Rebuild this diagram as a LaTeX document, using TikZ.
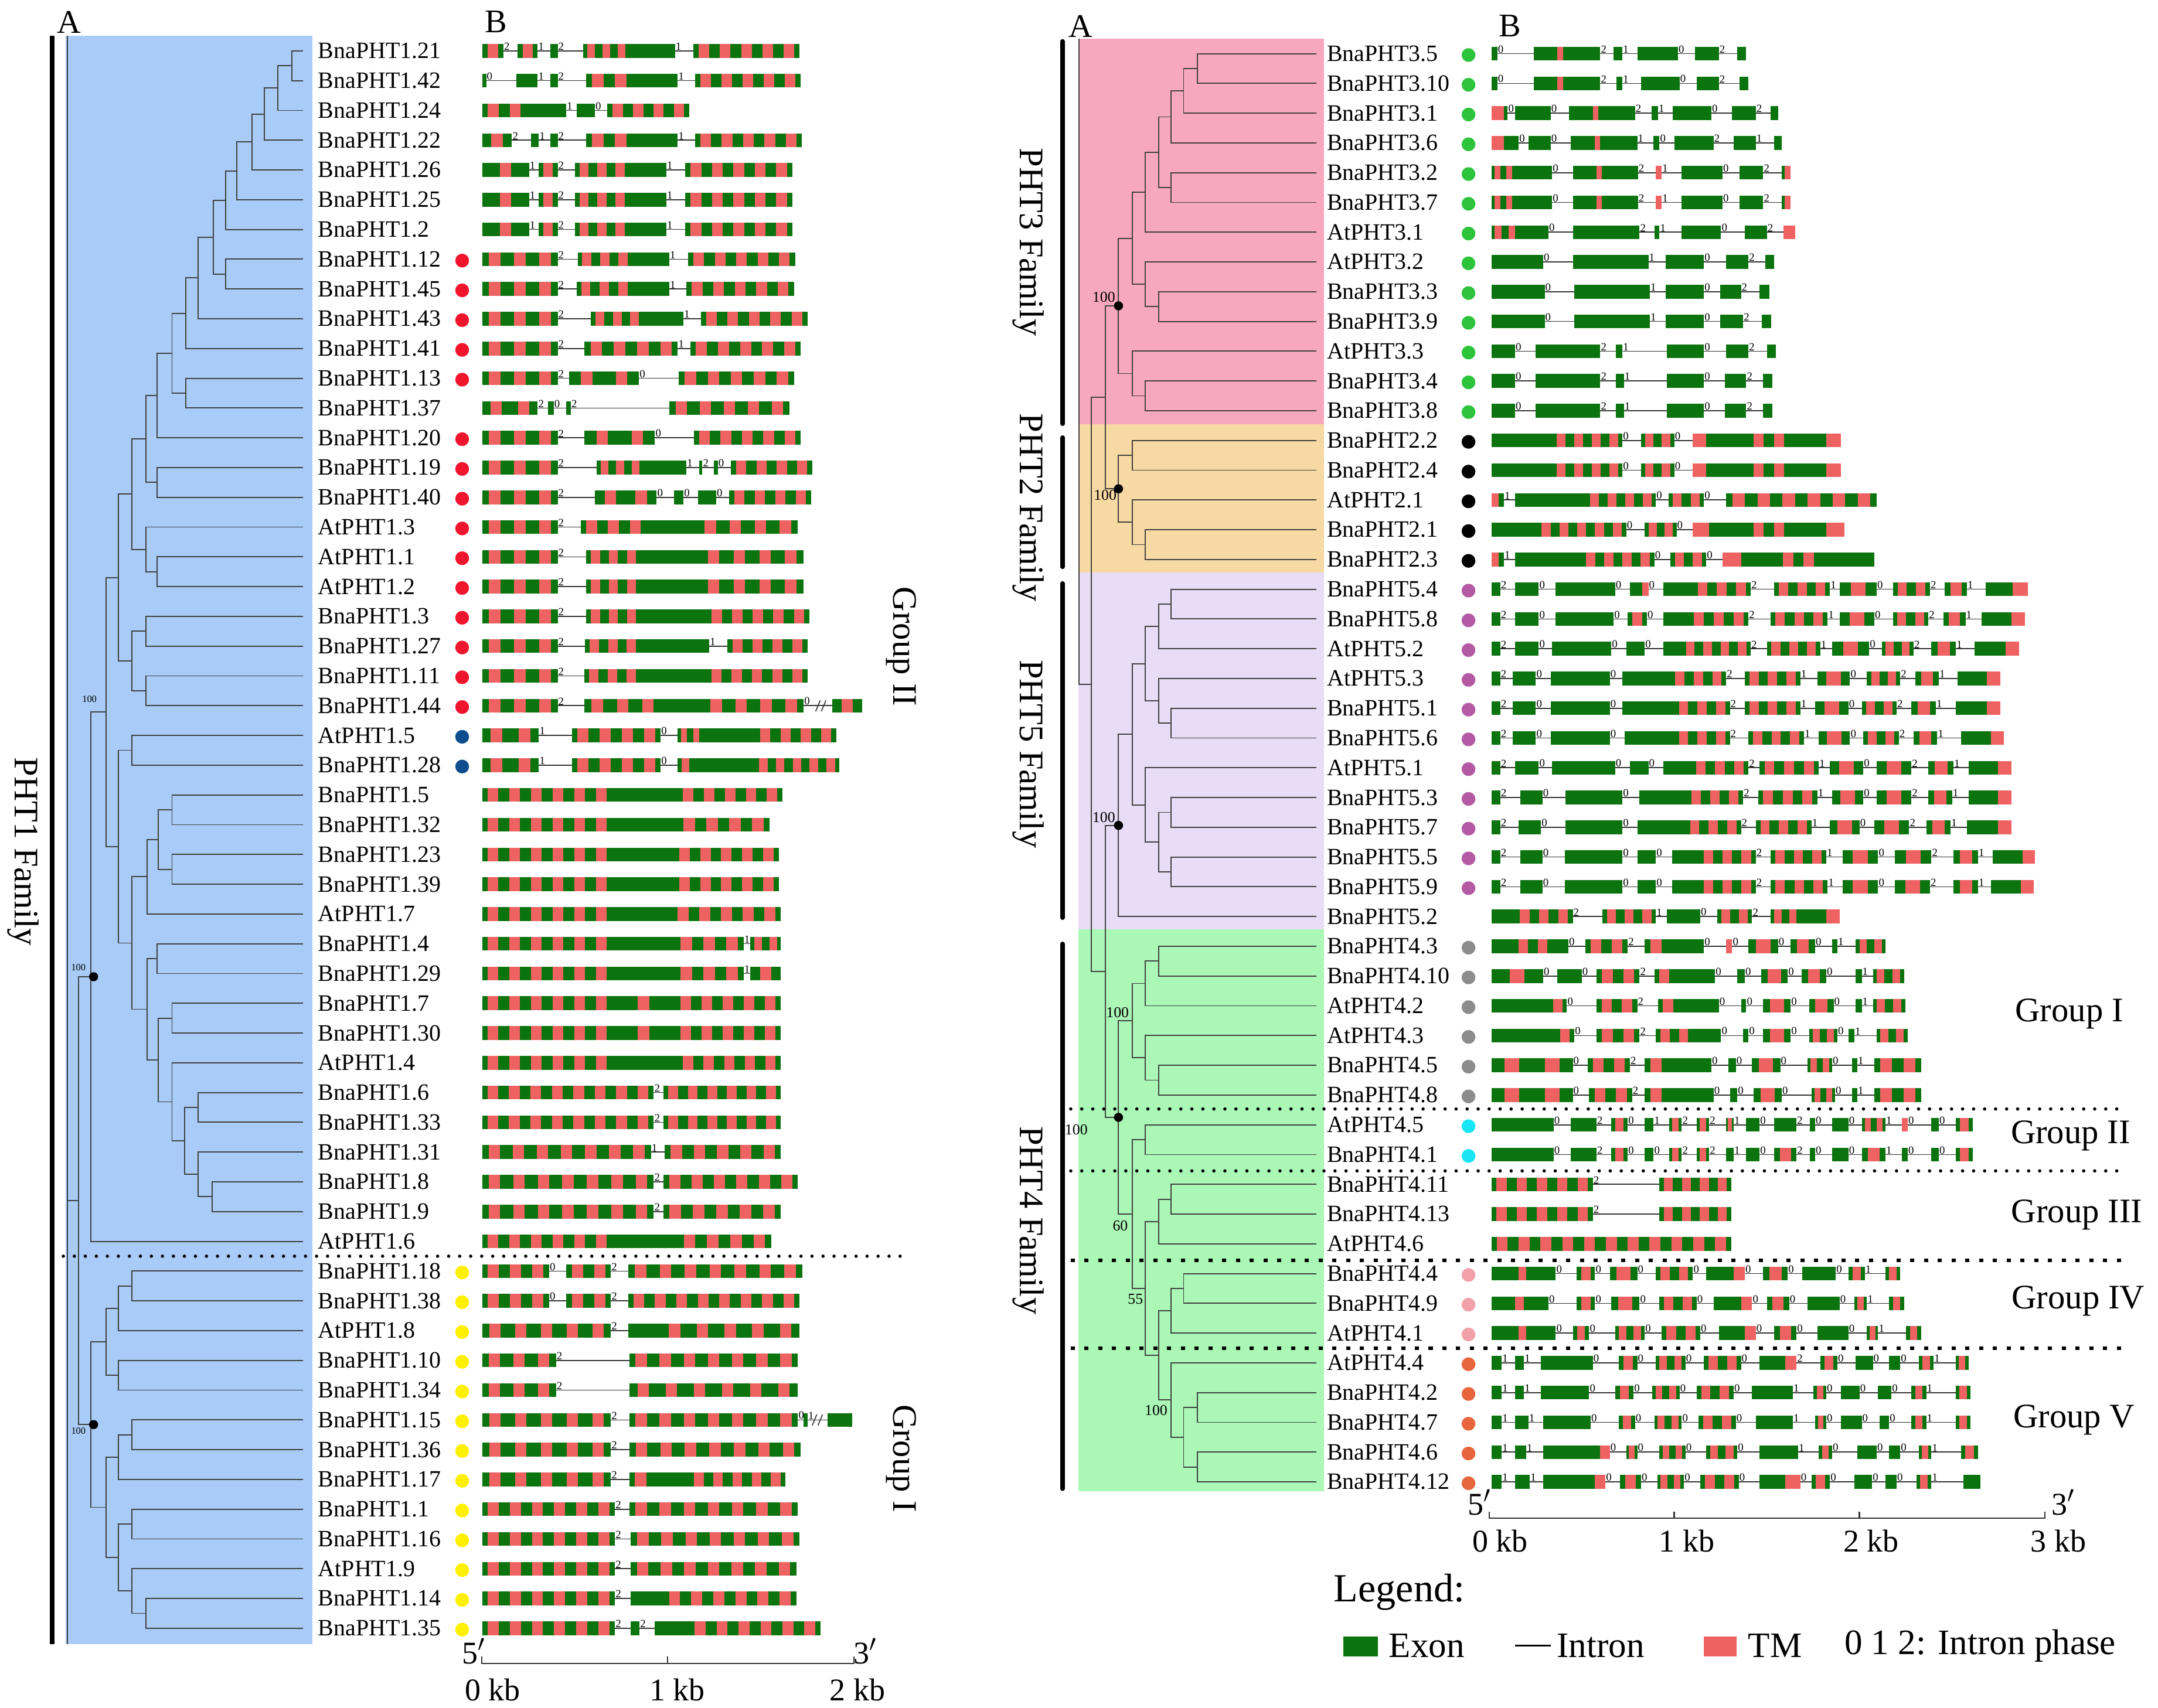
\documentclass[tikz,border=0pt]{standalone}
\usepackage{fontspec}
\setmainfont{Liberation Serif}
\usepackage{tikz}
\usetikzlibrary{calc}

\definecolor{phtonebg}{HTML}{A8CCF7}
\definecolor{phtthreebg}{HTML}{F8A8BE}
\definecolor{phttwobg}{HTML}{F7D9A3}
\definecolor{phtfivebg}{HTML}{E8DCF6}
\definecolor{phtfourbg}{HTML}{AAF7B6}
\definecolor{exongreen}{HTML}{0B740E}
\definecolor{tmred}{HTML}{EF6262}
\definecolor{dotred}{HTML}{F0142D}
\definecolor{dotblue}{HTML}{0E4C8C}
\definecolor{dotyellow}{HTML}{FFF000}
\definecolor{dotgreen}{HTML}{2DC43C}
\definecolor{dotpurple}{HTML}{B45AA5}
\definecolor{dotgray}{HTML}{8C8C8C}
\definecolor{dotcyan}{HTML}{19E6F5}
\definecolor{dotpink}{HTML}{F2A0AA}
\definecolor{dotorange}{HTML}{E8643C}

\tikzset{
  treeline/.style={draw=black!75, line width=0.8pt},
  intronline/.style={draw=black!80, line width=0.7pt},
  exonbox/.style={fill=exongreen},
  tmbox/.style={fill=tmred},
  phasetxt/.style={anchor=south west, inner sep=0.3pt, font=\fontsize{8}{8}\selectfont},
  genename/.style={anchor=west, inner sep=0pt, font=\fontsize{17}{17}\selectfont},
  famline/.style={line width=3.2pt},
  dotsep/.style={line width=2.4pt, dash pattern=on 0pt off 8pt, line cap=round},
  dashsep/.style={line width=2.4pt, dash pattern=on 3pt off 7pt},
  famname/.style={rotate=-90, font=\fontsize{25}{25}\selectfont},
  groupname/.style={font=\fontsize{25}{25}\selectfont},
  bootleft/.style={font=\fontsize{7}{7}\selectfont, inner sep=0pt},
  bootright/.style={font=\fontsize{11}{11}\selectfont, inner sep=0pt},
  panel/.style={font=\fontsize{24}{24}\selectfont},
  scaletxt/.style={font=\fontsize{23}{23}\selectfont},
  legendtxt/.style={anchor=west, inner sep=0pt, font=\fontsize{26}{26}\selectfont}
}

% #1 node, #2 x, #3 and #4 children
\newcommand{\clade}[4]{%
  \path let \p1=(#3), \p2=(#4) in (#2pt,{0.5*\y1+0.5*\y2}) coordinate (#1);
  \draw[treeline] (#3) -- (#3 -| #1) -- (#4 -| #1) -- (#4);}

% #1 row, #2 start, #3 end, #4 exons start/end/stripes, #5 phases x/digit
\newcommand{\gene}[5]{%
  \pgfmathsetmacro\gy{\rowbase+(#1-1)*\rowstep}
  \draw[intronline] (#2,\gy) -- (#3,\gy);
  \foreach \xa/\xb/\nk in {#4}{%
    \ifnum\nk<0
      \fill[tmbox] (\xa,\gy-5) rectangle (\xb,\gy+5);
    \else
      \fill[exonbox] (\xa,\gy-5) rectangle (\xb,\gy+5);
      \ifnum\nk>0
        \pgfmathsetmacro\hw{min(0.25*(\xb-\xa)/\nk,10)}
        \foreach \i in {1,...,\nk}
          \fill[tmbox] ({\xa+(\xb-\xa)*(\i-0.5)/\nk-\hw},\gy-5) rectangle ({\xa+(\xb-\xa)*(\i-0.5)/\nk+\hw},\gy+5);
      \fi
    \fi}
  \foreach \xp/\dg in {#5}{\ifx\xp\empty\else\node[phasetxt] at (\xp,\gy) {\dg};\fi}}

\begin{document}
\begin{tikzpicture}[x=1pt,y=-1pt]
\useasboundingbox (0,0) rectangle (1568,1241);

%%%%%%%%%%%%%%%% left: PHT1
\fill[phtonebg] (47.5,26) rectangle (227,1195);
\draw[famline] (38,26) -- (38,1195);
\node[famname] (famone) at (17,619) {PHT1 Family};
\node[panel] (pA) at (50,16) {A};
\node[panel] (pB) at (360.5,16) {B};

\foreach \n [count=\i] in {BnaPHT1.21,BnaPHT1.42,BnaPHT1.24,BnaPHT1.22,BnaPHT1.26,BnaPHT1.25,BnaPHT1.2,BnaPHT1.12,BnaPHT1.45,BnaPHT1.43,BnaPHT1.41,BnaPHT1.13,BnaPHT1.37,BnaPHT1.20,BnaPHT1.19,BnaPHT1.40,AtPHT1.3,AtPHT1.1,AtPHT1.2,BnaPHT1.3,BnaPHT1.27,BnaPHT1.11,BnaPHT1.44,AtPHT1.5,BnaPHT1.28,BnaPHT1.5,BnaPHT1.32,BnaPHT1.23,BnaPHT1.39,AtPHT1.7,BnaPHT1.4,BnaPHT1.29,BnaPHT1.7,BnaPHT1.30,AtPHT1.4,BnaPHT1.6,BnaPHT1.33,BnaPHT1.31,BnaPHT1.8,BnaPHT1.9,AtPHT1.6,BnaPHT1.18,BnaPHT1.38,AtPHT1.8,BnaPHT1.10,BnaPHT1.34,BnaPHT1.15,BnaPHT1.36,BnaPHT1.17,BnaPHT1.1,BnaPHT1.16,AtPHT1.9,BnaPHT1.14,BnaPHT1.35}{
  \coordinate (l\i) at (220,{37+(\i-1)*21.63});
  \node[genename] (gl\i) at (231,{37+(\i-1)*21.63}) {\n};
}

% tree
\clade{a1}{212}{l1}{l2}
\clade{a2}{202}{a1}{l3}
\clade{a3}{192}{a2}{l4}
\clade{a4}{183}{a3}{l5}
\clade{a5}{172}{a4}{l6}
\clade{a6}{164}{a5}{l7}
\clade{b1}{164}{l8}{l9}
\clade{a7}{155}{a6}{b1}
\clade{a8}{144}{a7}{l10}
\clade{a9}{135}{a8}{l11}
\clade{c1}{135}{l12}{l13}
\clade{a10}{125}{a9}{c1}
\clade{a11}{114}{a10}{l14}
\clade{d1}{114}{l15}{l16}
\clade{a12}{106}{a11}{d1}
\clade{e1}{114}{l18}{l19}
\clade{e2}{106}{l17}{e1}
\clade{a13}{96}{a12}{e2}
\clade{f1}{106}{l20}{l21}
\clade{f2}{106}{l22}{l23}
\clade{f3}{96}{f1}{f2}
\clade{a14}{86}{a13}{f3}
\clade{g1}{96}{l24}{l25}
\clade{h1}{125}{l26}{l27}
\clade{h2}{125}{l28}{l29}
\clade{h3}{115}{h1}{h2}
\clade{h4}{107}{h3}{l30}
\clade{h5}{114}{l31}{l32}
\clade{h6}{125}{l33}{l34}
\clade{h7}{154}{l39}{l40}
\clade{h8}{144}{l38}{h7}
\clade{h9}{144}{l36}{l37}
\clade{h10}{134}{h9}{h8}
\clade{h11}{125}{l35}{h10}
\clade{h12}{115}{h6}{h11}
\clade{h13}{107}{h5}{h12}
\clade{h}{96}{h4}{h13}
\clade{a15}{86}{g1}{h}
\clade{a16}{77}{a14}{a15}
\clade{a17}{66}{a16}{l41}
\clade{i1}{96}{l42}{l43}
\clade{i2}{86}{i1}{l44}
\clade{i3}{86}{l45}{l46}
\clade{i4}{77}{i2}{i3}
\clade{j1}{96}{l47}{l48}
\clade{j2}{86}{j1}{l49}
\clade{j3}{96}{l50}{l51}
\clade{j4}{106}{l53}{l54}
\clade{j5}{96}{l52}{j4}
\clade{j6}{86}{j3}{j5}
\clade{j7}{77}{j2}{j6}
\clade{grpone}{66}{i4}{j7}
\clade{top}{57}{a17}{grpone}
\draw[treeline] (49,26) -- (49,1195);
\draw[treeline] (top) -- ++(-8,0);
\fill ([xshift=2pt]a17) circle (3.3);
\fill ([xshift=2pt]grpone) circle (3.3);
\node[bootleft] at (65,508) {100};
\node[bootleft] at (57,703) {100};
\node[bootleft] at (57,1040) {100};

% domain dots
\foreach \i in {8,9,...,12,14,15,...,23} \fill[dotred] (335.8,{38+(\i-1)*21.63}) circle (5);
\foreach \i in {24,25} \fill[dotblue] (335.8,{38+(\i-1)*21.63}) circle (5);
\foreach \i in {42,43,...,54} \fill[dotyellow] (335.8,{38+(\i-1)*21.63}) circle (5);

% gene structures
\begin{scope}[xscale=0.4156]
\def\rowbase{37}\def\rowstep{21.63}
\gene{1}{843}{1398}{843/880/1,905/940/1,962/975/0,1020/1100/3,1100/1180/0,1212/1398/5}{880/2,940/1,975/2,1180/1}
\gene{2}{843}{1400}{843/850/0,903/940/0,962/975/0,1025/1105/2,1105/1185/0,1215/1400/5}{850/0,940/1,975/2,1185/1}
\gene{3}{843}{1205}{843/920/2,920/990/0,1008/1040/0,1062/1205/4}{990/1,1040/0}
\gene{4}{843}{1402}{843/895/1,928/942/0,962/975/0,1025/1105/2,1105/1185/0,1215/1402/5}{895/2,942/1,975/2,1185/1}
\gene{5}{843}{1385}{843/925/1,942/975/1,1005/1100/3,1100/1165/0,1198/1385/5}{925/1,975/2,1165/1}
\gene{6}{843}{1385}{843/925/1,942/975/1,1005/1100/3,1100/1165/0,1198/1385/5}{925/1,975/2,1165/1}
\gene{7}{843}{1385}{843/925/1,942/975/1,1005/1100/3,1100/1165/0,1198/1385/5}{925/1,975/2,1165/1}
\gene{8}{843}{1390}{843/975/3,1010/1105/3,1105/1170/0,1203/1390/5}{975/2,1170/1}
\gene{9}{843}{1388}{843/975/3,1008/1105/3,1105/1170/0,1200/1388/5}{975/2,1170/1}
\gene{10}{843}{1412}{843/975/3,1033/1125/3,1125/1195/0,1225/1412/5}{975/2,1195/1}
\gene{11}{843}{1400}{843/975/3,1022/1185/4,1207/1400/5}{975/2,1185/1}
\gene{12}{843}{1388}{843/975/3,995/1117/2,1187/1388/5}{975/2,1117/0}
\gene{13}{843}{1380}{843/940/2,958/968/0,990/998/0,1170/1380/5}{940/2,968/0,998/2}
\gene{14}{843}{1400}{843/975/3,1022/1145/2,1213/1400/5}{975/2,1145/0}
\gene{15}{843}{1420}{843/975/3,1043/1125/3,1125/1200/0,1222/1228/0,1248/1255/0,1278/1420/4}{975/2,1200/1,1228/2,1255/0}
\gene{16}{843}{1418}{843/975/3,1040/1148/2,1178/1195/0,1220/1252/0,1275/1418/4}{975/2,1148/0,1195/0,1252/0}
\gene{17}{843}{1395}{843/975/3,1015/1130/3,1130/1220/0,1220/1395/4}{975/2}
\gene{18}{843}{1405}{843/975/3,1025/1120/3,1120/1225/0,1225/1405/4}{975/2}
\gene{19}{843}{1405}{843/975/3,1025/1120/3,1120/1225/0,1225/1405/4}{975/2}
\gene{20}{843}{1415}{843/975/3,1025/1120/3,1120/1235/0,1235/1415/5}{975/2}
\gene{21}{843}{1412}{843/975/3,1023/1120/3,1120/1240/0,1272/1412/4}{975/2,1240/1}
\gene{22}{843}{1412}{843/975/3,1022/1120/3,1120/1235/0,1235/1412/5}{975/2}
\gene{23}{843}{1507}{843/975/3,1022/1155/3,1155/1230/0,1230/1405/4,1455/1507/1}{975/2,1405/0}
\draw[intronline] (1426,517) -- (1434,509) (1436,517) -- (1444,509);
\gene{24}{843}{1462}{843/942/2,1000/1155/4,1185/1228/2,1228/1320/0,1320/1462/4}{942/1,1155/0}
\gene{25}{843}{1467}{843/942/2,1000/1155/4,1185/1212/1,1212/1320/0,1320/1467/5}{942/1,1155/0}
\gene{26}{843}{1368}{843/1070/6,1070/1185/0,1185/1368/5}{}
\gene{27}{843}{1345}{843/1070/6,1070/1185/0,1185/1345/4}{}
\gene{28}{843}{1362}{843/1070/6,1070/1178/0,1178/1362/5}{}
\gene{29}{843}{1362}{843/1070/6,1070/1178/0,1178/1362/5}{}
\gene{30}{843}{1365}{843/1070/6,1070/1175/0,1175/1365/5}{}
\gene{31}{843}{1365}{843/1070/6,1070/1180/0,1180/1300/3,1312/1365/2}{1300/1}
\gene{32}{843}{1365}{843/1070/6,1070/1180/0,1180/1300/3,1312/1365/1}{1300/1}
\gene{33}{843}{1365}{843/1070/6,1070/1180/1,1180/1365/5}{}
\gene{34}{843}{1365}{843/1070/6,1070/1180/1,1180/1365/5}{}
\gene{35}{843}{1365}{843/1070/6,1070/1185/0,1185/1365/5}{}
\gene{36}{843}{1365}{843/1143/8,1160/1365/6}{1143/2}
\gene{37}{843}{1365}{843/1143/8,1160/1365/6}{1143/2}
\gene{38}{843}{1365}{843/1138/7,1162/1365/5}{1138/1}
\gene{39}{843}{1395}{843/1143/7,1160/1395/6}{1143/2}
\gene{40}{843}{1365}{843/1143/7,1160/1365/5}{1143/2}
\gene{41}{843}{1348}{843/1070/6,1070/1185/0,1185/1348/4}{}
\gene{42}{843}{1403}{843/960/3,990/1068/2,1098/1403/7}{960/0,1068/2}
\gene{43}{843}{1398}{843/960/3,990/1068/2,1098/1398/8}{960/0,1068/2}
\gene{44}{843}{1398}{843/1068/5,1098/1155/0,1155/1398/5}{1068/2}
\gene{45}{843}{1395}{843/972/3,1100/1395/7}{972/2}
\gene{46}{843}{1395}{843/972/3,1100/1395/6}{972/2}
\gene{47}{843}{1490}{843/1068/5,1100/1395/7,1405/1412/0,1447/1490/0}{1068/2,1395/0,1412/1}
\draw[intronline] (1420,1036) -- (1428,1028) (1430,1036) -- (1438,1028);
\gene{48}{843}{1400}{843/1068/5,1100/1400/7}{1068/2}
\gene{49}{843}{1373}{843/1068/5,1100/1140/1,1140/1205/0,1205/1373/5}{1068/2}
\gene{50}{843}{1395}{843/1075/6,1100/1395/7}{1075/2}
\gene{51}{843}{1398}{843/1075/6,1103/1398/7}{1075/2}
\gene{52}{843}{1392}{843/1075/6,1103/1392/7}{1075/2}
\gene{53}{843}{1392}{843/1075/6,1103/1160/0,1160/1392/6}{1075/2}
\gene{54}{843}{1435}{843/1075/6,1103/1118/0,1145/1205/0,1205/1435/6}{1075/2,1118/2}
\end{scope}

\draw[dotsep] (38,913) -- (657,913);
\node[groupname, rotate=-90] (gIIl) at (655,470) {Group II};
\node[groupname, rotate=-90] (gIl) at (655,1060) {Group I};

% scale bar
\draw[intronline, line width=1pt] (350,1204) -- (350,1209) -- (620.5,1209) -- (620.5,1204) (485,1209) -- (485,1204);
\node[scaletxt] at (344,1200) {5$'$};
\node[scaletxt] at (628.7,1200) {3$'$};
\node[scaletxt] at (358,1228) {0 kb};
\node[scaletxt] at (492,1228) {1 kb};
\node[scaletxt] at (623,1228) {2 kb};

%%%%%%%%%%%%%%%% right: PHT3, PHT2, PHT5, PHT4
\fill[phtthreebg] (783.6,28) rectangle (962,308.5);
\fill[phttwobg] (783.6,308.5) rectangle (962,416);
\fill[phtfivebg] (783.6,416) rectangle (962,675.5);
\fill[phtfourbg] (783.6,675.5) rectangle (962,1084);
\draw[famline, line cap=round] (772,30) -- (772,308);
\draw[famline, line cap=round] (772,318) -- (772,412);
\draw[famline, line cap=round] (772,424) -- (772,667);
\draw[famline, line cap=round] (772,686) -- (772,1082);
\node[famname] (famthree) at (747,176) {PHT3 Family};
\node[famname] (famtwo) at (747,369) {PHT2 Family};
\node[famname] (famfive) at (747,548) {PHT5 Family};
\node[famname] (famfour) at (747,887) {PHT4 Family};
\node[panel] (qA) at (785,19) {A};
\node[panel] (qB) at (1097,19) {B};

\foreach \n [count=\i] in {BnaPHT3.5,BnaPHT3.10,BnaPHT3.1,BnaPHT3.6,BnaPHT3.2,BnaPHT3.7,AtPHT3.1,AtPHT3.2,BnaPHT3.3,BnaPHT3.9,AtPHT3.3,BnaPHT3.4,BnaPHT3.8,BnaPHT2.2,BnaPHT2.4,AtPHT2.1,BnaPHT2.1,BnaPHT2.3,BnaPHT5.4,BnaPHT5.8,AtPHT5.2,AtPHT5.3,BnaPHT5.1,BnaPHT5.6,AtPHT5.1,BnaPHT5.3,BnaPHT5.7,BnaPHT5.5,BnaPHT5.9,BnaPHT5.2,BnaPHT4.3,BnaPHT4.10,AtPHT4.2,AtPHT4.3,BnaPHT4.5,BnaPHT4.8,AtPHT4.5,BnaPHT4.1,BnaPHT4.11,BnaPHT4.13,AtPHT4.6,BnaPHT4.4,BnaPHT4.9,AtPHT4.1,AtPHT4.4,BnaPHT4.2,BnaPHT4.7,BnaPHT4.6,BnaPHT4.12}{
  \coordinate (r\i) at (956.5,{39+(\i-1)*21.625});
  \node[genename] (gr\i) at (964,{39+(\i-1)*21.625}) {\n};
}

% tree
\clade{p1}{870}{r1}{r2}
\clade{p2}{860}{p1}{r3}
\clade{p3}{851}{p2}{r4}
\clade{p4}{851}{r5}{r6}
\clade{p5}{842}{p3}{p4}
\clade{p6}{832}{p5}{r7}
\clade{p7}{842}{r9}{r10}
\clade{p8}{832}{r8}{p7}
\clade{p9}{822.6}{p6}{p8}
\clade{p10}{832}{r12}{r13}
\clade{p11}{822.6}{r11}{p10}
\clade{phtthree}{812.7}{p9}{p11}
\clade{q1}{822.6}{r14}{r15}
\clade{q2}{832}{r17}{r18}
\clade{q3}{822.6}{r16}{q2}
\clade{phttwo}{812.7}{q1}{q3}
\clade{pta}{803}{phtthree}{phttwo}
\clade{s1}{851}{r19}{r20}
\clade{s2}{842}{s1}{r21}
\clade{s3}{851}{r23}{r24}
\clade{s4}{842}{r22}{s3}
\clade{s5}{832}{s2}{s4}
\clade{s6}{851}{r26}{r27}
\clade{s7}{851}{r28}{r29}
\clade{s8}{842}{s6}{s7}
\clade{s9}{832}{r25}{s8}
\clade{s10}{822.6}{s5}{s9}
\clade{phtfive}{812.7}{s10}{r30}
\clade{t1}{842}{r31}{r32}
\clade{t2}{832}{t1}{r33}
\clade{t3}{842}{r35}{r36}
\clade{t4}{832}{r34}{t3}
\clade{grI}{822.6}{t2}{t4}
\clade{grII}{832}{r37}{r38}
\clade{t5}{851}{r39}{r40}
\clade{grIII}{842}{t5}{r41}
\clade{t6}{860}{r42}{r43}
\clade{grIV}{851}{t6}{r44}
\clade{t7}{870}{r46}{r47}
\clade{t8}{870}{r48}{r49}
\clade{t9}{860}{t7}{t8}
\clade{grV}{851}{r45}{t9}
\clade{t10}{842}{grIV}{grV}
\clade{t11}{832}{grIII}{t10}
\clade{t12}{822.6}{grII}{t11}
\clade{phtfour}{812.7}{grI}{t12}
\clade{ptb}{803}{phtfive}{phtfour}
\clade{ptc}{793}{pta}{ptb}
\draw[treeline] (784,28) |- (ptc);
\foreach \nd in {phtthree,phttwo,phtfive,phtfour} \fill (\nd) circle (3.3);
\node[bootright] at (802,216) {100};
\node[bootright] at (803,360) {100};
\node[bootright] at (802,594) {100};
\node[bootright] at (812,736) {100};
\node[bootright] at (782,821) {100};
\node[bootright] at (814,891) {60};
\node[bootright] at (825,944) {55};
\node[bootright] at (840,1025) {100};

% domain dots
\foreach \i in {1,2,...,13} \fill[dotgreen] (1067,{40+(\i-1)*21.625}) circle (5);
\foreach \i in {14,15,...,18} \fill[black] (1067,{40+(\i-1)*21.625}) circle (5);
\foreach \i in {19,20,...,29} \fill[dotpurple] (1067,{40+(\i-1)*21.625}) circle (5);
\foreach \i in {31,32,...,36} \fill[dotgray] (1067,{40+(\i-1)*21.625}) circle (5);
\foreach \i in {37,38} \fill[dotcyan] (1067,{40+(\i-1)*21.625}) circle (5);
\foreach \i in {42,43,44} \fill[dotpink] (1067,{40+(\i-1)*21.625}) circle (5);
\foreach \i in {45,46,...,49} \fill[dotorange] (1067,{40+(\i-1)*21.625}) circle (5);

% gene structures
\begin{scope}[xshift=724pt, xscale=0.5383]
\def\rowbase{39}\def\rowstep{21.625}
\gene{1}{668}{1012}{668/676/0,725/757/0,757/765/-1,765/815/0,833/845/0,865/920/0,943/975/0,1000/1012/0}{676/0,815/2,845/1,920/0,975/2}
\gene{2}{668}{1015}{668/676/0,725/757/0,757/765/-1,765/815/0,837/845/0,870/922/0,945/975/0,1003/1015/0}{676/0,815/2,845/1,922/0,975/2}
\gene{3}{668}{1055}{668/685/-1,685/690/0,700/748/0,773/805/0,805/812/-1,812/862/0,884/893/0,913/965/0,993/1025/0,1045/1055/0}{690/0,748/0,862/2,893/1,965/0,1025/2}
\gene{4}{668}{1060}{668/685/-1,685/705/0,718/748/0,775/808/0,808/815/-1,815/865/0,887/895/0,915/968/0,995/1025/0,1050/1060/0}{705/0,748/0,865/1,895/0,968/2,1025/1}
\gene{5}{668}{1072}{668/700/2,700/750/0,778/810/0,810/817/-1,817/866/0,890/898/-1,925/980/0,1003/1035/0,1060/1064/0,1064/1072/-1}{750/0,866/2,898/1,980/0,1035/2}
\gene{6}{668}{1072}{668/700/2,700/750/0,778/810/0,810/817/-1,817/866/0,890/898/-1,925/980/0,1003/1035/0,1060/1064/0,1064/1072/-1}{750/0,866/2,898/1,980/0,1035/2}
\gene{7}{668}{1078}{668/705/2,705/745/0,778/868/0,888/895/0,925/978/0,1010/1040/0,1062/1078/-1}{745/0,868/2,895/1,978/0,1040/2}
\gene{8}{668}{1050}{668/738/0,778/880/0,903/955/0,985/1015/0,1038/1050/0}{738/0,880/1,955/0,1015/2}
\gene{9}{668}{1043}{668/740/0,780/882/0,903/955/0,977/1005/0,1030/1043/0}{740/0,882/1,955/0,1005/2}
\gene{10}{668}{1046}{668/740/0,780/882/0,903/955/0,977/1008/0,1033/1046/0}{740/0,882/1,955/0,1008/2}
\gene{11}{668}{1052}{668/700/0,728/815/0,836/845/0,905/955/0,985/1015/0,1040/1052/0}{700/0,815/2,845/1,955/0,1015/2}
\gene{12}{668}{1047}{668/700/0,728/815/0,836/847/0,905/955/0,983/1012/0,1035/1047/0}{700/0,815/2,847/1,955/0,1012/2}
\gene{13}{668}{1047}{668/700/0,728/815/0,836/847/0,905/955/0,983/1012/0,1035/1047/0}{700/0,815/2,847/1,955/0,1012/2}
\gene{14}{668}{1140}{668/750/0,750/845/4,870/915/2,940/958/-1,958/1015/0,1015/1070/2,1070/1120/0,1120/1140/-1}{845/0,915/0}
\gene{15}{668}{1140}{668/750/0,750/845/4,870/915/2,940/958/-1,958/1015/0,1015/1070/2,1070/1120/0,1120/1140/-1}{845/0,915/0}
\gene{16}{668}{1188}{668/678/-1,678/685/0,700/795/0,795/890/4,907/955/2,985/1188/6}{685/1,890/0,955/0}
\gene{17}{668}{1145}{668/730/0,730/850/5,875/918/2,940/962/-1,962/1015/0,1015/1070/2,1070/1120/0,1120/1145/-1}{850/0,918/0}
\gene{18}{668}{1185}{668/678/-1,678/685/0,700/790/0,790/888/4,910/958/2,980/1005/-1,1005/1055/0,1055/1110/2,1110/1185/0}{685/1,888/0,958/0}
\gene{19}{668}{1392}{668/680/0,700/732/0,755/835/0,855/872/0,872/880/-1,900/940/0,940/1018/3,1050/1125/3,1138/1188/1,1210/1260/2,1280/1310/1,1335/1372/0,1372/1392/-1}{680/2,732/0,835/0,880/0,1018/2,1125/1,1188/0,1260/2,1310/1}
\gene{20}{668}{1388}{668/680/0,700/732/0,755/833/0,852/878/1,900/935/0,935/1015/3,1045/1122/3,1138/1185/1,1210/1258/2,1278/1308/1,1330/1370/0,1370/1388/-1}{680/2,732/0,833/0,878/0,1015/2,1122/1,1185/0,1258/2,1308/1}
\gene{21}{668}{1380}{668/680/0,700/732/0,750/830/0,850/875/0,900/925/0,925/1018/4,1040/1112/3,1128/1178/1,1195/1238/2,1262/1295/1,1320/1362/0,1362/1380/-1}{680/2,732/0,830/0,875/0,1018/2,1112/1,1178/0,1238/2,1295/1}
\gene{22}{668}{1355}{668/680/0,697/728/0,748/828/0,845/910/0,910/985/3,1010/1085/3,1108/1152/1,1175/1220/2,1240/1272/1,1297/1337/0,1337/1355/-1}{680/2,728/0,828/0,985/2,1085/1,1152/0,1220/2,1272/1}
\gene{23}{668}{1355}{668/680/0,697/728/0,748/828/0,845/915/0,915/990/3,1010/1085/3,1105/1150/1,1168/1215/2,1235/1268/1,1295/1337/0,1337/1355/-1}{680/2,728/0,828/0,990/2,1085/1,1150/0,1215/2,1268/1}
\gene{24}{668}{1360}{668/680/0,697/728/0,748/828/0,848/915/0,915/990/3,1015/1090/3,1110/1152/1,1170/1218/2,1238/1270/1,1302/1342/0,1342/1360/-1}{680/2,728/0,828/0,990/2,1090/1,1152/0,1218/2,1270/1}
\gene{25}{668}{1370}{668/680/0,700/732/0,750/835/0,855/880/0,900/938/0,938/1015/3,1030/1110/3,1125/1170/1,1188/1235/1,1258/1292/1,1312/1352/0,1352/1370/-1}{680/2,732/0,835/0,880/0,1015/2,1110/1,1170/0,1235/2,1292/1}
\gene{26}{668}{1370}{668/680/0,707/737/0,768/845/0,868/932/0,932/1008/3,1028/1108/3,1128/1170/1,1188/1235/1,1258/1290/1,1312/1352/0,1352/1370/-1}{680/2,737/0,845/0,1008/2,1108/1,1170/0,1235/2,1290/1}
\gene{27}{668}{1370}{668/680/0,705/735/0,768/845/0,865/930/0,930/1005/3,1025/1100/3,1125/1165/1,1185/1232/1,1255/1288/1,1310/1352/0,1352/1370/-1}{680/2,735/0,845/0,1005/2,1100/1,1165/0,1232/2,1288/1}
\gene{28}{668}{1402}{668/680/0,707/737/0,767/845/0,865/890/0,912/948/0,948/1025/3,1045/1120/3,1142/1190/1,1213/1262/1,1292/1325/1,1345/1385/0,1385/1402/-1}{680/2,737/0,845/0,890/0,1025/2,1120/1,1190/0,1262/2,1325/1}
\gene{29}{668}{1400}{668/680/0,707/737/0,767/845/0,865/890/0,912/948/0,948/1025/3,1045/1122/3,1142/1190/1,1213/1260/1,1292/1325/1,1342/1383/0,1383/1400/-1}{680/2,737/0,845/0,890/0,1025/2,1122/1,1190/0,1260/2,1325/1}
\gene{30}{668}{1138}{668/700/0,700/778/3,818/890/3,905/950/0,973/1020/2,1045/1085/2,1085/1120/0,1120/1138/-1}{778/2,890/1,950/0,1020/2}
\gene{31}{668}{1200}{668/698/0,698/750/2,750/772/0,795/852/2,875/905/1,905/955/0,985/993/-1,1015/1055/1,1072/1105/1,1128/1135/0,1160/1200/2}{772/0,852/2,955/0,993/0,1055/0,1105/0,1135/1}
\gene{32}{668}{1225}{668/738/1,757/790/0,810/868/2,888/915/1,915/970/0,1000/1010/0,1032/1068/1,1087/1120/1,1160/1168/0,1183/1225/2}{738/0,790/0,868/2,970/0,1010/0,1068/0,1120/0,1168/1}
\gene{33}{668}{1227}{668/745/0,745/770/1,810/865/2,893/920/1,920/975/0,1005/1012/0,1035/1072/1,1097/1130/1,1160/1168/0,1183/1227/2}{770/0,865/2,975/0,1012/0,1072/0,1130/0,1168/1}
\gene{34}{668}{1230}{668/755/0,755/780/1,810/868/2,890/940/2,940/978/0,1008/1015/0,1035/1072/1,1097/1135/2,1150/1158/0,1188/1230/2}{780/0,868/2,978/0,1015/0,1072/0,1135/0,1158/1}
\gene{35}{668}{1248}{668/778/2,798/855/2,875/905/1,905/965/0,988/998/0,1020/1058/1,1095/1128/2,1155/1162/0,1185/1248/2}{778/0,855/2,965/0,998/0,1058/0,1128/0,1162/1}
\gene{36}{668}{1248}{668/778/2,800/858/2,875/905/1,905/968/0,990/1000/0,1022/1060/1,1100/1132/2,1155/1162/0,1185/1248/2}{778/0,858/2,968/0,1000/0,1060/0,1132/0,1162/1}
\gene{37}{668}{1318}{668/752/0,775/810/0,830/852/1,875/887/0,908/925/1,945/962/1,985/995/1,1012/1030/0,1050/1080/0,1098/1105/0,1128/1150/0,1168/1200/2,1222/1230/-1,1262/1272/0,1295/1318/1}{752/0,810/2,852/0,887/1,925/2,962/2,995/1,1030/0,1080/2,1105/0,1150/0,1200/1,1230/0,1272/0}
\gene{38}{668}{1318}{668/752/0,775/810/0,830/852/1,875/887/0,908/925/1,945/962/1,985/995/0,1012/1030/0,1050/1080/1,1098/1105/0,1128/1150/0,1168/1200/1,1222/1230/0,1262/1272/0,1295/1318/1}{752/0,810/2,852/0,887/0,925/2,962/2,995/1,1030/0,1080/2,1105/0,1150/0,1200/1,1230/0,1272/0}
\gene{39}{668}{992}{668/805/5,895/992/4}{805/2}
\gene{40}{668}{992}{668/805/5,895/992/4}{805/2}
\gene{41}{668}{992}{668/992/11}{}
\gene{42}{668}{1220}{668/700/0,700/720/1,720/755/0,783/808/1,828/865/1,890/940/2,958/995/0,995/1010/-1,1035/1068/1,1088/1133/0,1150/1172/1,1200/1220/1}{755/0,808/0,865/0,940/0,1010/0,1068/0,1133/0,1172/1}
\gene{43}{668}{1225}{668/700/0,700/712/-1,712/745/0,783/808/1,830/868/1,895/945/2,968/1005/0,1005/1020/-1,1040/1070/1,1095/1138/0,1158/1175/1,1205/1225/1}{745/0,808/0,868/0,945/0,1020/0,1070/0,1138/0,1175/1}
\gene{44}{668}{1248}{668/700/0,700/720/1,720/755/0,778/800/1,835/875/2,898/950/2,975/1010/0,1010/1025/-1,1050/1080/1,1108/1150/0,1175/1190/1,1228/1248/1}{755/0,800/0,875/0,950/0,1025/0,1080/0,1150/0,1190/1}
\gene{45}{668}{1312}{668/682/0,700/712/0,735/805/0,840/865/1,890/930/2,955/1005/2,1030/1065/0,1065/1080/-1,1112/1135/1,1160/1183/0,1205/1220/0,1245/1265/1,1295/1312/1}{682/1,712/1,805/0,865/0,930/0,1005/0,1080/2,1135/0,1183/0,1220/0,1265/1}
\gene{46}{668}{1315}{668/682/0,700/712/0,735/800/0,835/860/1,885/922/2,945/995/2,1020/1075/0,1103/1120/1,1140/1165/0,1190/1208/0,1235/1255/1,1295/1315/1}{682/1,712/1,800/0,860/0,922/0,995/0,1075/1,1120/0,1165/0,1208/0,1255/1}
\gene{47}{668}{1315}{668/682/0,700/718/0,738/802/0,840/862/1,888/925/2,948/998/2,1025/1075/0,1105/1120/1,1140/1168/0,1192/1205/0,1235/1255/1,1295/1315/1}{682/1,718/1,802/0,862/0,925/0,998/0,1075/1,1120/0,1168/0,1205/0,1255/1}
\gene{48}{668}{1325}{668/682/0,700/715/0,738/815/0,815/828/-1,850/865/1,895/930/2,958/1000/2,1030/1082/0,1110/1128/1,1162/1188/0,1205/1220/0,1245/1262/1,1302/1325/1}{682/1,715/1,828/0,865/0,930/0,1000/0,1082/1,1128/0,1188/0,1220/0,1262/1}
\gene{49}{668}{1328}{668/682/0,700/720/0,738/808/0,808/822/-1,842/870/1,892/928/2,950/1002/2,1030/1065/0,1065/1085/-1,1100/1125/1,1158/1182/0,1200/1215/0,1242/1262/1,1305/1328/0}{682/1,720/1,822/0,870/0,928/0,1002/0,1085/0,1125/0,1182/0,1215/0,1262/1}
\end{scope}

% group separators
\draw[dotsep] (778,806) -- (1545,806);
\draw[dotsep] (778,851) -- (1545,851);
\draw[dashsep] (778,916) -- (1545,916);
\draw[dashsep] (778,980) -- (1545,980);
\node[groupname] (gI) at (1503.5,737) {Group I};
\node[groupname] (gII) at (1504.5,825.5) {Group II};
\node[groupname] (gIII) at (1509,883) {Group III};
\node[groupname] (gIV) at (1510,945.5) {Group IV};
\node[groupname] (gV) at (1507,1032) {Group V};

% scale bar
\draw[intronline, line width=1pt] (1082,1098.5) -- (1082,1103.5) -- (1485.7,1103.5) -- (1485.7,1098.5) (1216.5,1103.5) -- (1216.5,1098.5) (1351,1103.5) -- (1351,1098.5);
\node[scaletxt] at (1075,1092) {5$'$};
\node[scaletxt] at (1499,1092) {3$'$};
\node[scaletxt] at (1090,1120) {0 kb};
\node[scaletxt] at (1225.5,1120) {1 kb};
\node[scaletxt] at (1359.5,1120) {2 kb};
\node[scaletxt] at (1495.6,1120) {3 kb};

% legend
\node[legendtxt, font=\fontsize{29}{29}\selectfont] (lgd) at (969,1157) {Legend:};
\fill[exonbox] (976,1189.5) rectangle (1001,1204);
\node[legendtxt] (lexon) at (1009,1196) {Exon};
\draw[line width=1.4pt] (1101,1196) -- (1127,1196);
\node[legendtxt] (lintron) at (1131,1196) {Intron};
\fill[tmbox] (1238,1189.5) rectangle (1262,1204);
\node[legendtxt] (ltm) at (1270,1196) {TM};
\node[legendtxt] (lphase) at (1340,1196) {0 1 2: Intron phase};
\end{tikzpicture}
\end{document}
